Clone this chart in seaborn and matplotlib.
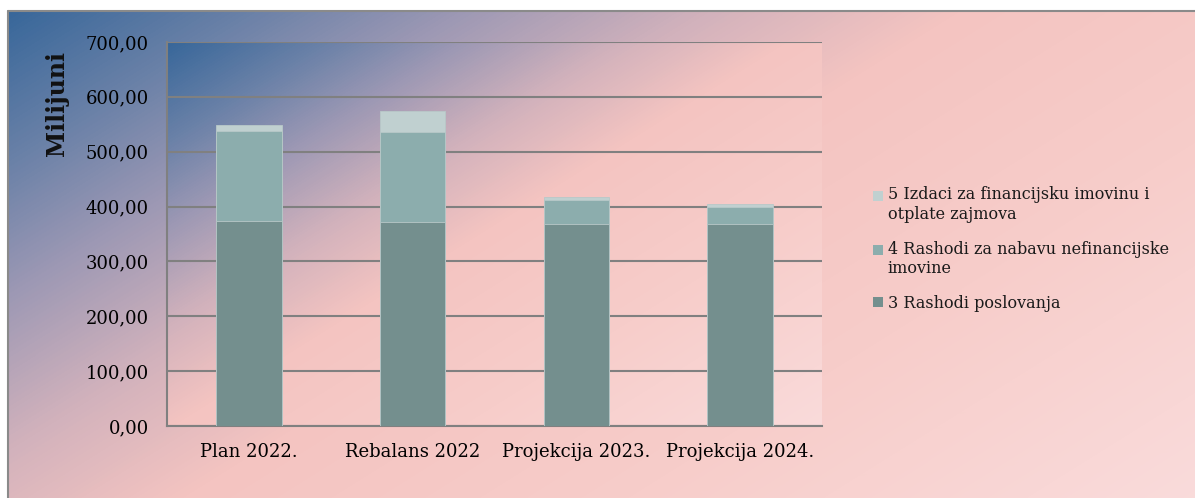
import numpy as np
import pandas as pd
import matplotlib
matplotlib.use("Agg")
import matplotlib.pyplot as plt
import seaborn as sns
from matplotlib.colors import LinearSegmentedColormap, to_rgb
from matplotlib.patches import Patch
from matplotlib.lines import Line2D
from matplotlib.ticker import FuncFormatter, FixedLocator

categories = ["Plan 2022.", "Rebalans 2022", "Projekcija 2023.", "Projekcija 2024."]
rashodi_poslovanja = [373.0, 372.0, 367.5, 367.5]
nefinancijska_imovina = [164.0, 164.0, 44.0, 31.0]
izdaci_financijska = [12.0, 38.5, 5.5, 5.5]
series_labels = ["3 Rashodi poslovanja",
                 "4 Rashodi za nabavu nefinancijske\nimovine",
                 "5 Izdaci za financijsku imovinu i\notplate zajmova"]
series_colors = ["#748f8e", "#8cadad", "#c0d0d0"]
y_ticks = [0, 100, 200, 300, 400, 500, 600, 700]

df = pd.DataFrame({"kategorija": categories,
                   "s3": rashodi_poslovanja,
                   "s4": nefinancijska_imovina,
                   "s5": izdaci_financijska})
df["c3"] = df["s3"]
df["c4"] = df["s3"] + df["s4"]
df["c5"] = df["c4"] + df["s5"]

sns.set_theme(style="white")
plt.rcParams["font.family"] = ["DejaVu Serif"]

# gradient background (blue top-left -> pink bottom-right)
stops = [(0, "#38679a"), (250, "#6c82a8"), (450, "#9c98b4"), (700, "#d2b2bc"),
         (950, "#f4c4c1"), (1400, "#f7cdca"), (2000, "#fadcdc")]
grad_cmap = LinearSegmentedColormap.from_list(
    "bg", [(d / 2000, to_rgb(c)) for d, c in stops])


def gradient(w, h, scale=1.0):
    xx, yy = np.meshgrid(np.arange(w), np.arange(h))
    d = (xx + 1.6 * yy) / scale
    return grad_cmap(np.clip(d / 2000, 0, 1))


W, H = 1195, 498
fig = plt.figure(figsize=(W / 100, H / 100), dpi=100)
fig.patch.set_facecolor("white")
fig.patch.set_linewidth(0)

# outer chart area, runs past the right and bottom edge of the image
bg = fig.add_axes([8 / W, -10 / H, (W + 12) / W, (H - 1) / H])
bg.imshow(gradient(W + 12, H - 1), aspect="auto", interpolation="bilinear")
bg.axis("off")
fig.add_artist(Line2D([8 / W, 1.01], [1 - 11 / H] * 2, color="#8a8a8a", lw=1.5))
fig.add_artist(Line2D([8 / W] * 2, [-0.01, 1 - 11 / H], color="#8a8a8a", lw=1.5))

ax = fig.add_axes([167 / W, 1 - 426 / H, (822 - 167) / W, (426 - 42) / H])
ax.set_facecolor("none")
ax.imshow(gradient(655, 384, 0.65), aspect="auto", extent=(-0.5, 3.5, 0, 700),
          zorder=0, interpolation="bilinear")

for col, color in zip(["c5", "c4", "c3"], series_colors[::-1]):
    sns.barplot(data=df, x="kategorija", y=col, color=color, width=0.4,
                saturation=1, edgecolor="#b8c8c8", linewidth=0.6, ax=ax, zorder=3)

ax.set_xlim(-0.5, 3.5)
ax.set_ylim(0, 700)
ax.set_yticks(y_ticks)
ax.yaxis.set_major_formatter(FuncFormatter(lambda v, p: f"{v:.2f}".replace(".", ",")))
ax.grid(axis="y", color="#808080", linewidth=1.5, zorder=1)
ax.set_axisbelow(True)

ax.xaxis.set_major_locator(FixedLocator([-0.5, 0.5, 1.5, 2.5, 3.5]))
ax.xaxis.set_minor_locator(FixedLocator([0, 1, 2, 3]))
ax.set_xticklabels([])
ax.set_xticklabels(categories, minor=True)
ax.tick_params(axis="x", which="minor", length=0, pad=12, labelsize=13, colors="black")
ax.tick_params(axis="x", which="major", length=5, width=1.2, color="#808080", direction="out")
ax.tick_params(axis="y", length=6, width=1.2, color="#808080", direction="out",
               labelsize=13, pad=7)
ax.tick_params(axis="both", labelcolor="black")
ax.set_xlabel("")
ax.set_ylabel("")
sns.despine(ax=ax, top=True, right=True)
for side in ["left", "bottom"]:
    ax.spines[side].set_color("#808080")
    ax.spines[side].set_linewidth(1.5)

fig.text(57 / W, 1 - 104 / H, "Milijuni", rotation=90, ha="center", va="center",
         fontsize=17, fontweight="bold", color="#111111")

leg_size = 11.5
handles = [Patch(facecolor=c, edgecolor="none") for c in series_colors[::-1]]
leg = ax.legend(handles, series_labels[::-1], loc="upper left",
                bbox_to_anchor=(859 / W, 1 - 172 / H), bbox_transform=fig.transFigure,
                frameon=False, fontsize=leg_size, handlelength=0.6, handleheight=0.6,
                handletextpad=0.3, labelspacing=1.1, labelcolor="#1a1a1a")
# align the square with the first line of two-line labels
for h, lab in zip(leg.legend_handles, series_labels[::-1]):
    if "\n" in lab:
        h.set_y(h.get_y() + 0.6 * leg_size)

fig.savefig("out.png", dpi=100)
